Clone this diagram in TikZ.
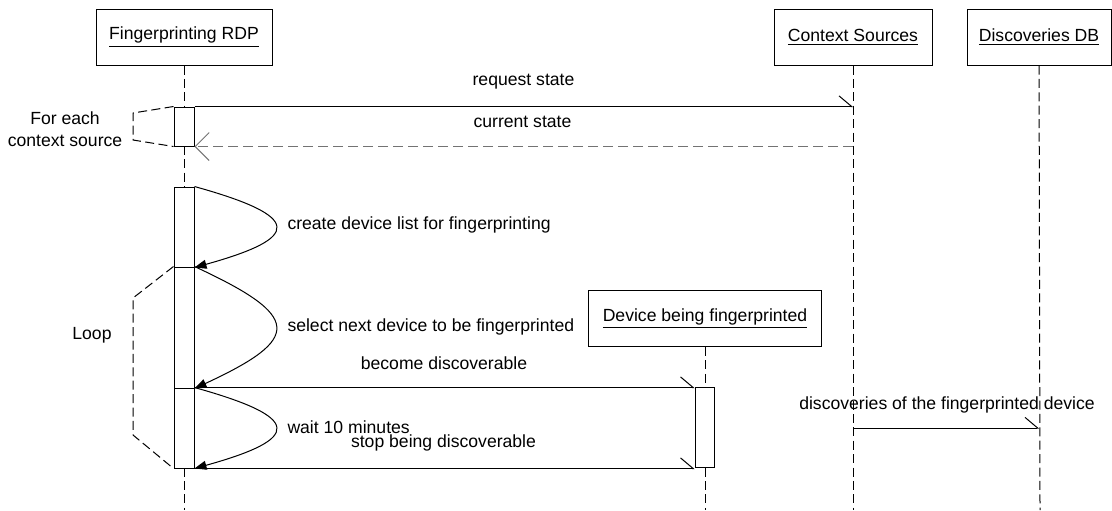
\documentclass[tikz,border=0pt]{standalone}
\usepackage{fontspec}
\setmainfont{Liberation Sans}
\usetikzlibrary{arrows.meta}

\begin{document}
\begin{tikzpicture}[x=0.5pt,y=-0.5pt,line width=0.5pt,
    every node/.style={font=\fontsize{8.8}{11}\selectfont,inner sep=0pt},
    obj/.style={draw,minimum height=28pt},
    act/.style={draw,fill=white,minimum width=10pt},
    life/.style={dash pattern=on 4.5pt off 2.2pt},
    frame/.style={dash pattern=on 4.5pt off 2.2pt},
    msg/.style={-{Straight Barb[left,length=6.3pt,width=10.6pt]}},
    reply/.style={gray!90!black,dash pattern=on 5pt off 2.5pt,
      -{Straight Barb[length=7pt,width=14pt]}},
    call/.style={-{Triangle[length=6pt,width=4.5pt]}}]
      \useasboundingbox (0,0) rectangle (1112,510);
      \node[obj,minimum width=88pt] (rdp) at (184,37) {\underline{Fingerprinting RDP}};
      \node[obj,minimum width=79pt] (cs) at (853,37) {\underline{Context Sources}};
      \node[obj,minimum width=72pt] (db) at (1039,37) {\underline{Discoveries DB}};
      \node[obj,minimum width=116.5pt] (dev) at (705,318.5) {\underline{Device being fingerprinted}};
      \coordinate (rdpend) at (184,510);
      \coordinate (csend) at (853,510);
      \coordinate (dbend) at (1040,510);
      \coordinate (devend) at (705,510);
      \draw[life] (rdp) -- (rdpend);
      \draw[life] (cs) -- (csend);
      \draw[life] (db) -- (dbend);
      \draw[life] (dev) -- (devend);
      \node[act,minimum height=19.5pt] (act1) at (184,126.5) {};
      \node[act,minimum height=40pt] (act2) at (184,227) {};
      \node[act,minimum height=60.5pt] (act3) at (184,327.5) {};
      \node[act,minimum height=40pt] (act4) at (184,428) {};
      \node[act,minimum width=9.5pt,minimum height=40pt] (devact) at (704.5,427.5) {};
      \coordinate (f1a) at (133,113);
      \coordinate (f1b) at (133,140);
      \coordinate (f2a) at (133,298);
      \coordinate (f2b) at (133,435);
      \draw[frame] (act1.north west) -- (f1a) -- (f1b) -- (act1.south west);
      \draw[frame] (act3.north west) -- (f2a) -- (f2b) -- (act4.south west);
      \node[align=center] (each) at (65,129) {For each\\context source};
      \node (loop) at (92,335) {Loop};
      \draw[msg] (act1.north east) -- (act1.north east -| cs);
      \node (lreq) at (523.5,82) {request state};
      \draw[reply] (act1.south east -| cs) -- (act1.south east);
      \node (lcur) at (522.5,122) {current state};
      \draw[call] (act2.north east) .. controls +(108,30) and +(108,-30) .. (act2.south east);
      \node[anchor=west] (lcreate) at (287,225) {create device list for fingerprinting};
      \draw[call] (act3.north east) .. controls +(108,50) and +(108,-50) .. (act3.south east);
      \node[anchor=west] (lselect) at (287,327) {select next device to be fingerprinted};
      \draw[msg] (act4.north east) -- (act4.north east -| devact.west);
      \node (lbecome) at (444,363) {become discoverable};
      \draw[call] (act4.north east) .. controls +(108,30) and +(108,-30) .. (act4.south east);
      \node[anchor=west] (lwait) at (287,427) {wait 10 minutes};
      \draw[msg] (act4.south east) -- (act4.south east -| devact.west);
      \node (lstop) at (443.5,443) {stop being discoverable};
      \draw[msg] (act4 -| cs) -- (act4 -| db);
      \node (ldisc) at (947,405) {discoveries of the fingerprinted device};
    \end{tikzpicture}
\end{document}
